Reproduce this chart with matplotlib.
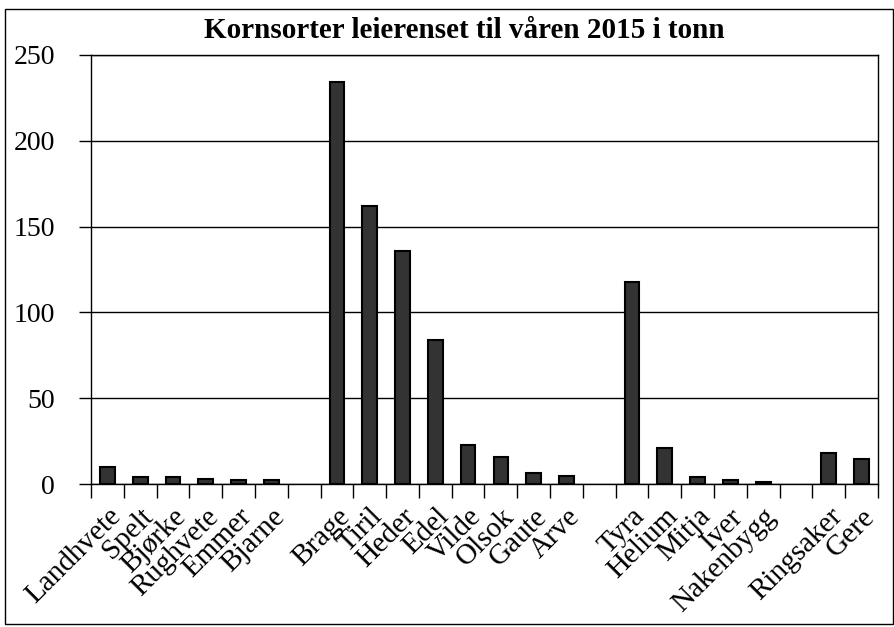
import numpy as np
import matplotlib.pyplot as plt
from matplotlib.patches import Rectangle

# sorter (tomme navn = mellomrom mellom gruppene)
sorter = ['Landhvete', 'Spelt', 'Bjørke', 'Rughvete', 'Emmer', 'Bjarne', '',
          'Brage', 'Tiril', 'Heder', 'Edel', 'Vilde', 'Olsok', 'Gaute', 'Arve', '',
          'Tyra', 'Helium', 'Mitja', 'Iver', 'Nakenbygg', '',
          'Ringsaker', 'Gere']
tonn = [10, 4, 4, 3, 2.3, 2.3, None,
        234, 162, 136, 84, 23, 15.5, 6.2, 4.7, None,
        118, 21, 4, 2.3, 1.1, None,
        18, 14.5]
y_ticks = [0, 50, 100, 150, 200, 250]

plt.rcParams['font.family'] = ['Liberation Serif', 'DejaVu Serif']

fig = plt.figure(figsize=(8.95, 6.27), dpi=100)
ax = fig.add_axes([91/895, 1-484/627, (878-91)/895, (484-55)/627])

x = np.arange(len(sorter))
h = np.array([np.nan if v is None else v for v in tonn], dtype=float)
keep = ~np.isnan(h)
ax.bar(x[keep], h[keep], width=0.45, color='#333333', edgecolor='black',
       linewidth=1.5, zorder=3)

ax.set_xlim(-0.5, len(sorter) - 0.5)
ax.set_ylim(0, 250)
ax.set_yticks(y_ticks)
ax.yaxis.grid(True, color='black', linewidth=1.0, zorder=0)
ax.tick_params(axis='y', labelsize=20, length=9, width=1, pad=17)

# ticks between categories, labels at centres
ax.set_xticks(np.arange(len(sorter) + 1) - 0.5)
ax.set_xticklabels([])
ax.set_xticks(x, minor=True)
ax.set_xticklabels(sorter, minor=True, rotation=45, ha='right',
                   rotation_mode='anchor', fontsize=21)
ax.tick_params(axis='x', which='major', length=10, width=1)
ax.tick_params(axis='x', which='minor', length=0, pad=14)

for s in ax.spines.values():
    s.set_linewidth(1.0)

fig.text(464/895, 1-30/627, 'Kornsorter leierenset til våren 2015 i tonn',
         ha='center', va='center', fontsize=21, fontweight='bold')

fig.patches.append(Rectangle((5/895, 1-624/627), 888/895, 615/627,
                             transform=fig.transFigure, fill=False,
                             edgecolor='black', linewidth=1.0))

plt.savefig('out.png', dpi=100)
